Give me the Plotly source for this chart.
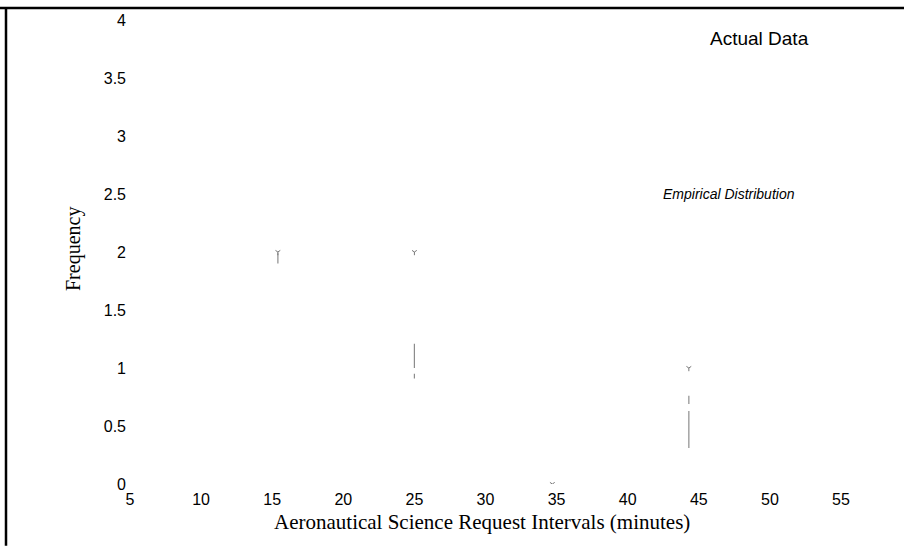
import plotly.graph_objects as go

# Request-interval bins (minutes) and observed frequencies
bin_centers = [15.4, 25.0, 34.7, 44.3]
actual_freq = [2, 2, 0, 1]

# Empirical distribution: vertical spans drawn at each bin
emp_x = [15.4, 25.0, 25.0, 44.3, 44.3]
emp_lo = [1.90, 1.00, 0.91, 0.69, 0.31]
emp_hi = [1.99, 1.21, 0.95, 0.76, 0.63]

x_ticks = [5, 10, 15, 20, 25, 30, 35, 40, 45, 50, 55]
y_ticks = [0, 0.5, 1, 1.5, 2, 2.5, 3, 3.5, 4]
y_ticktext = ["0", "0.5", "1", "1.5", "2", "2.5", "3", "3.5", "4"]

W, H = 904, 546
L, R, T, B = 130, 13, 18, 62
pw, ph = W - L - R, H - T - B


def px(xp):
    return (xp - L) / pw


def py(yp):
    return (H - B - yp) / ph


# build segment polyline with gaps
seg_x, seg_y = [], []
for xv, lo, hi in zip(emp_x, emp_lo, emp_hi):
    seg_x += [xv, xv, None]
    seg_y += [lo, hi, None]

fig = go.Figure()
fig.add_trace(go.Scatter(
    x=seg_x, y=seg_y, mode="lines",
    line=dict(color="#8c8c8c", width=1.2),
    name="Empirical Distribution", showlegend=False, hoverinfo="skip"))
fig.add_trace(go.Scatter(
    x=bin_centers, y=actual_freq, mode="markers",
    marker=dict(symbol="y-down", size=4, color="#777777",
                line=dict(color="#777777", width=1)),
    name="Actual Data", showlegend=False))

font_sans = "Liberation Sans, Arial, Helvetica, sans-serif"
font_serif = "Liberation Serif, Times New Roman, serif"

fig.update_layout(
    width=W, height=H,
    margin=dict(l=L, r=R, t=T, b=B, pad=0),
    paper_bgcolor="white", plot_bgcolor="white",
    font=dict(family=font_sans, size=16, color="black"),
    showlegend=False,
    xaxis=dict(range=[5, 5 + pw / 14.22], tickvals=x_ticks,
               showgrid=False, zeroline=False, showline=False,
               ticks="", ticklabelstandoff=4,
               tickfont=dict(family=font_sans, size=16)),
    yaxis=dict(range=[0, 4], tickvals=y_ticks, ticktext=y_ticktext,
               showgrid=False, zeroline=False, showline=False,
               ticks="", ticklabelstandoff=3,
               tickfont=dict(family=font_sans, size=16)),
    shapes=[
        dict(type="line", xref="paper", yref="paper",
             x0=px(0), x1=px(W), y0=py(6), y1=py(6),
             line=dict(color="black", width=2.5)),
        dict(type="line", xref="paper", yref="paper",
             x0=px(6), x1=px(6), y0=py(5), y1=py(H),
             line=dict(color="black", width=2.5)),
    ],
    annotations=[
        dict(text="Actual Data", xref="paper", yref="paper",
             x=px(759), y=py(37), xanchor="center", yanchor="middle",
             showarrow=False, font=dict(family=font_sans, size=19)),
        dict(text="<i>Empirical Distribution</i>", xref="paper", yref="paper",
             x=px(729), y=py(193), xanchor="center", yanchor="middle",
             showarrow=False, font=dict(family=font_sans, size=14)),
        dict(text="Aeronautical Science Request Intervals (minutes)",
             xref="paper", yref="paper", x=px(482), y=py(522),
             xanchor="center", yanchor="middle",
             showarrow=False, font=dict(family=font_serif, size=21)),
        dict(text="Frequency", xref="paper", yref="paper",
             x=px(73), y=py(248), textangle=-90,
             xanchor="center", yanchor="middle", showarrow=False,
             font=dict(family=font_serif, size=20)),
    ],
)

fig.write_html("out.html")
